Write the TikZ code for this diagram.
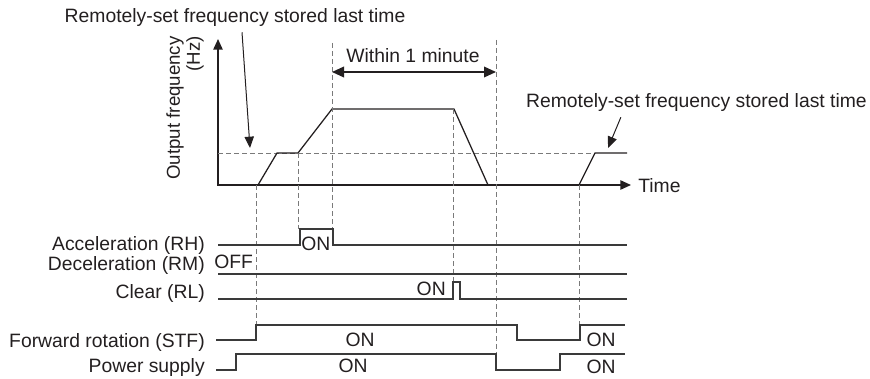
\documentclass[tikz,border=0pt]{standalone}
\usepackage{fontspec}
\setmainfont{Liberation Sans}
\usetikzlibrary{arrows.meta}
\definecolor{ink}{HTML}{231F20}
\definecolor{wave}{HTML}{3A3A3A}
\definecolor{guide}{HTML}{7A7A7A}
\tikzset{
  txt/.style={font=\fontsize{14.5}{17}\selectfont,text=ink,inner sep=0pt},
  signame/.style={txt,anchor=base east},
  state/.style={txt,anchor=base},
  axis/.style={draw=ink,line width=1.2pt,{Triangle[length=8pt,width=7pt]}-{Triangle[length=8pt,width=7pt]}},
  freq/.style={draw=ink,line width=0.95pt},
  wave/.style={draw=wave,line width=0.95pt},
  guide/.style={draw=guide,line width=0.7pt,dash pattern=on 3.5pt off 2.5pt},
  pointer/.style={-{Triangle[length=8.5pt,width=7pt]},draw=ink,line width=0.75pt},
  span/.style={{Triangle[length=9pt,width=8pt]}-{Triangle[length=9pt,width=8pt]},draw=ink,line width=1.1pt}
}
\begin{document}
\begin{tikzpicture}[x=0.75pt,y=-0.75pt]
\path[use as bounding box] (0,0) rectangle (870,378);
% output frequency chart
\draw[axis] (218,39) -- (218,185) -- (631,185);
\node[txt,rotate=90,align=right,font=\fontsize{14}{15}\selectfont] (ylab) at (185,108) {Output frequency\\(Hz)};
\node[txt,anchor=base west] (time) at (638,192) {Time};
\draw[guide] (218,153) -- (595,153);
\draw[freq] (218,185) -- (258,185) -- (277,153) -- (298,153) -- (332,109) -- (454,109) -- (488,185);
\draw[freq] (579,185) -- (595,153) -- (627,153);
% guides
\draw[guide] (256,185) -- (256,325); \draw[guide] (298,153) -- (298,229); \draw[guide] (332,43) -- (332,229);
\draw[guide] (453,109) -- (453,282); \draw[guide] (496,40) -- (496,354); \draw[guide] (579,185) -- (579,325);
% notes
\node[state] (storedA) at (235,23) {Remotely-set frequency stored last time};
\coordinate (tipA) at (250,148);
\draw[pointer] ([xshift=5.25pt,yshift=-3.75pt]storedA.south) -- (tipA);
\node[txt,anchor=base east] (storedB) at (867,108) {Remotely-set frequency stored last time};
\coordinate (tipB) at (608,148);
\draw[pointer] ([xshift=71.25pt,yshift=-3.75pt]storedB.south west) -- (tipB);
\node[state] (within) at (413,63) {Within 1 minute};
\coordinate (spanL) at (332,72); \coordinate (spanR) at (496,72);
\draw[span] (spanL) -- (spanR);
% signals
\node[signame] (rh) at (205,250) {Acceleration (RH)};
\node[signame] (rm) at (205,270) {Deceleration (RM)};
\node[signame] (rl) at (205,298) {Clear (RL)};
\node[signame] (stf) at (205,347) {Forward rotation (STF)};
\node[signame] (pwr) at (205,372) {Power supply};
\draw[wave] (218,245) -- (300,245) -- (300,229) -- (333,229) -- (333,245) -- (627,245);
\draw[wave] (218,274) -- (627,274);
\draw[wave] (218,299) -- (453,299) -- (453,282) -- (460,282) -- (460,299) -- (627,299);
\draw[wave] (216,340) -- (256,340) -- (256,325) -- (517,325) -- (517,340) -- (580,340) -- (580,325) -- (625,325);
\draw[wave] (216,370) -- (236,370) -- (236,354) -- (496,354) -- (496,370) -- (560,370) -- (560,354) -- (625,354);
\node[txt,anchor=base west] (rhon) at (301,250) {ON};
\node[txt,anchor=base west] (rmoff) at (214,268) {OFF};
\node[txt,anchor=base east] (rlon) at (446,295) {ON};
\node[state] (stfon) at (360,346) {ON}; \node[state] (pwron) at (353,372) {ON};
\node[state] (stfonb) at (601,346) {ON}; \node[state] (pwronb) at (601,373) {ON};
\end{tikzpicture}
\end{document}
